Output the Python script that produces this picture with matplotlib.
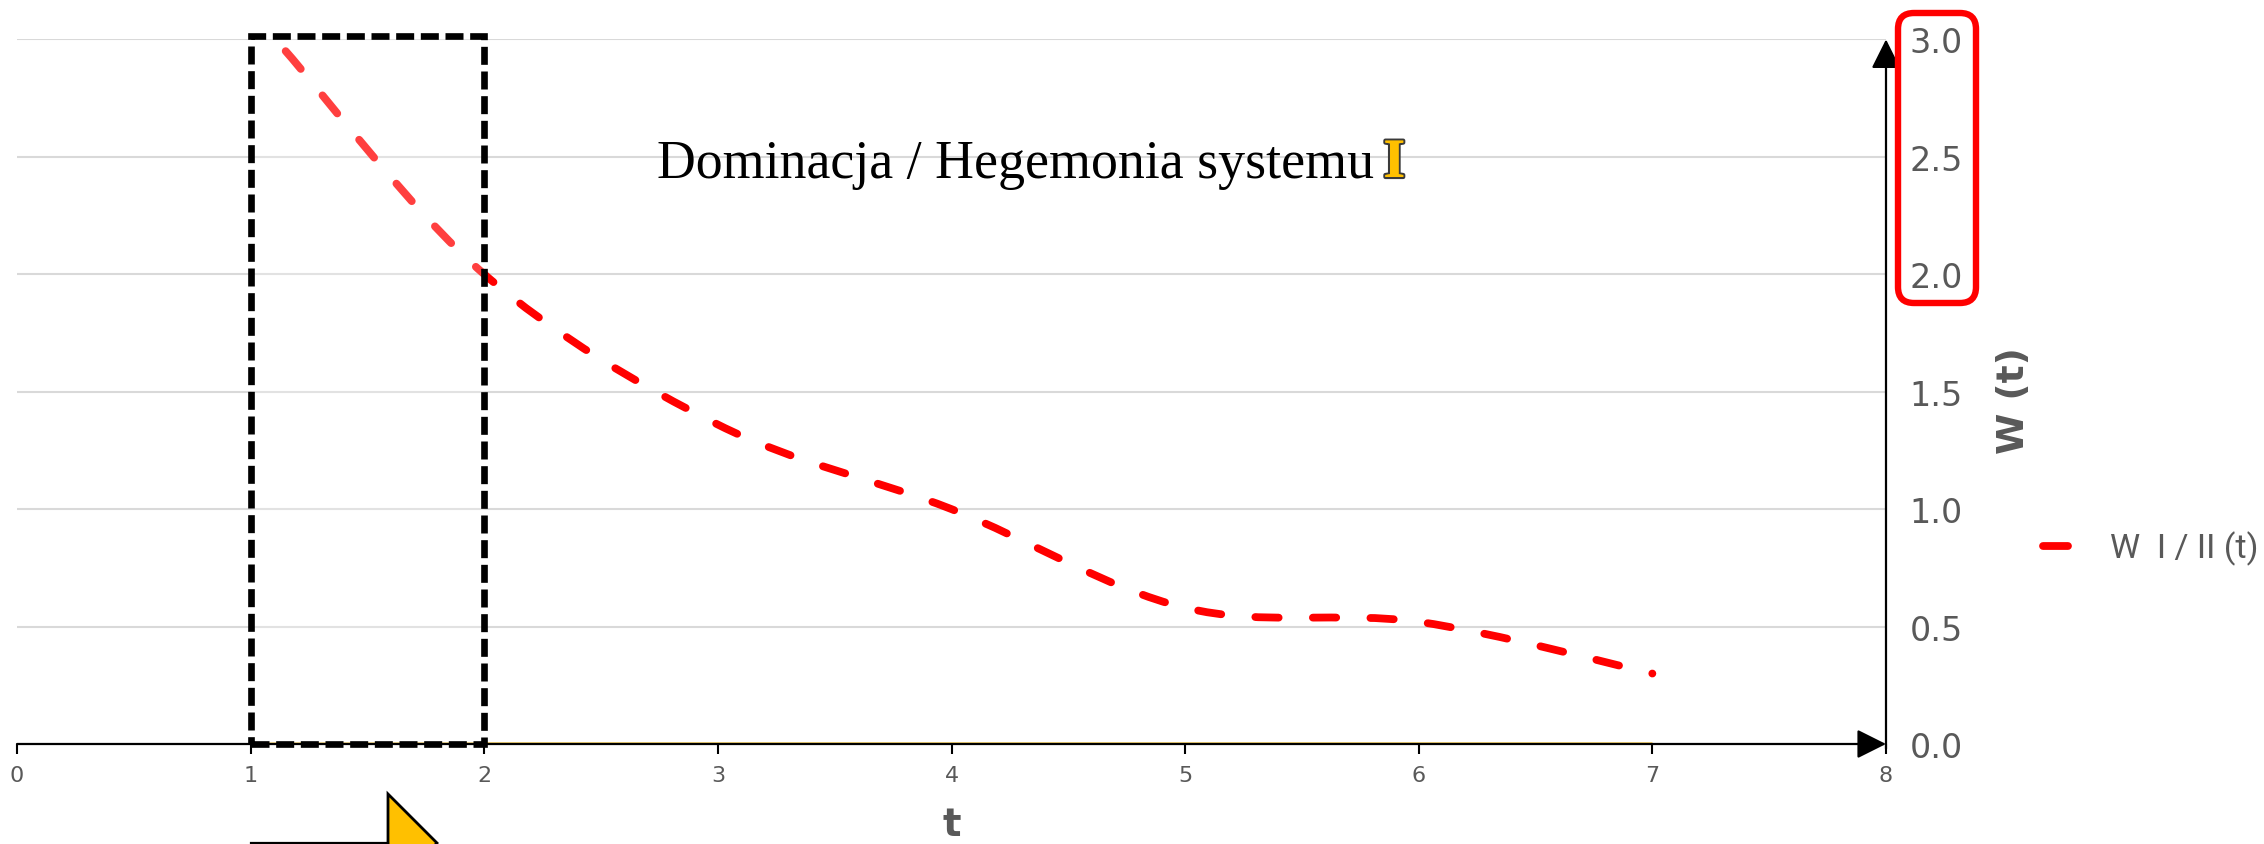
import numpy as np
import matplotlib
matplotlib.use('Agg')
import matplotlib.pyplot as plt
from matplotlib.path import Path
from matplotlib.patches import PathPatch, Rectangle, FancyBboxPatch, Polygon
from matplotlib.lines import Line2D
from matplotlib.transforms import IdentityTransform
import matplotlib.patheffects as pe

# data
t_ratio = [1.15, 2, 3, 4, 5, 6, 7]
w_ratio = [2.95, 2.0, 1.36, 1.0, 0.58, 0.52, 0.30]
t_second = [1, 2, 3, 4, 5, 6, 7]
w_second = [0, 0, 0, 0, 0, 0, 0]
x_ticks = [0, 1, 2, 3, 4, 5, 6, 7, 8]
y_ticks = [0.0, 0.5, 1.0, 1.5, 2.0, 2.5, 3.0]
box_t = [1, 2]
title_text = "Dominacja / Hegemonia systemu "
title_mark = "I"
legend_label = "W  I / II (t)"

W, H = 2264, 845
GREY = '#595959'
fig = plt.figure(figsize=(W / 100, H / 100), dpi=100)
ax = fig.add_axes([17 / W, 1 - 745 / H, (1886 - 17) / W, (745 - 40.4) / H])
ax.set_xlim(0, 8)
ax.set_ylim(0, 3)
for s in ax.spines.values():
    s.set_visible(False)


def px(x, y):
    # pixel coords measured from the top-left corner
    return (x, H - y)


# grid + ticks
ax.set_yticks(y_ticks)
ax.set_yticklabels(['%.1f' % v for v in y_ticks])
ax.yaxis.tick_right()
ax.yaxis.grid(True, color='#D9D9D9', lw=1.5, zorder=0)
ax.tick_params(axis='y', length=0, pad=17, labelsize=24, labelcolor=GREY)
ax.set_xticks(x_ticks)
ax.tick_params(axis='x', length=7, width=1.5, color='black', pad=8,
               labelsize=16, labelcolor=GREY)

# axis arrows
arrow = dict(arrowstyle='-|>,head_length=0.9,head_width=0.45', mutation_scale=20,
             color='black', lw=1.6, shrinkA=0, shrinkB=0)
ax.annotate('', xy=(8, 0), xytext=(0, 0), arrowprops=arrow, annotation_clip=False, zorder=5)
ax.annotate('', xy=(8, 3), xytext=(8, -0.02), arrowprops=arrow, annotation_clip=False, zorder=5)

# second series (flat at zero)
ax.plot(t_second, w_second, color='#F2CF6B', lw=3.5, zorder=2, solid_capstyle='butt')

# smoothed dashed ratio line
pts = np.column_stack([t_ratio, w_ratio])
verts = [tuple(pts[0])]
codes = [Path.MOVETO]
n = len(pts)
for i in range(n - 1):
    p0 = pts[max(i - 1, 0)]
    p1 = pts[i]
    p2 = pts[i + 1]
    p3 = pts[min(i + 2, n - 1)]
    c1 = p1 + (p2 - p0) / 6
    c2 = p2 - (p3 - p1) / 6
    verts += [tuple(c1), tuple(c2), tuple(p2)]
    codes += [Path.CURVE4] * 3
curve = PathPatch(Path(verts, codes), fill=False, edgecolor='#FF0000', lw=5.6,
                  linestyle=(0, (3.0, 4.4)), capstyle='round', zorder=3)
ax.add_patch(curve)

# dashed box
box = Rectangle((box_t[0], 0), box_t[1] - box_t[0], 3.015, facecolor=(1, 1, 1, 0.25),
                edgecolor='black', lw=4.8, linestyle=(0, (2.7, 1.0)), zorder=4,
                clip_on=False)
ax.add_patch(box)

# legend
handle = Line2D([], [], color='#FF0000', lw=5.6, solid_capstyle='round')
ax.legend([handle], [legend_label], loc='center left',
          bbox_to_anchor=(2043 / W, 1 - 549 / H), bbox_transform=fig.transFigure,
          frameon=False, handlelength=0.72, handletextpad=1.25, borderpad=0,
          borderaxespad=0, prop={'family': 'Roboto', 'size': 24.5}, labelcolor=GREY)

# axis titles
fig.text(2014 / W, 1 - 401 / H, 'W (t)', rotation=90, ha='center', va='center',
         fontsize=27, fontweight='bold', color=GREY)
fig.text(952 / W, 1 / H, 't', ha='center', va='bottom',
         fontsize=28, fontweight='bold', color=GREY)

# title with white background over the grid
ax.add_patch(Rectangle(px(642, 200), 1451 - 642, 80, transform=IdentityTransform(),
                       facecolor='white', edgecolor='none', zorder=1.5))
tt = fig.text(657 / W, 1 - 178 / H, title_text, ha='left', va='baseline',
              fontsize=38.8, family='Liberation Serif', color='black')
fig.canvas.draw()
bb = tt.get_window_extent()
fig.text((bb.x1 - 4) / W, 1 - 178 / H, title_mark, ha='left', va='baseline',
         fontsize=40, family='Liberation Serif', fontweight='bold', color='#FFC000',
         path_effects=[pe.withStroke(linewidth=3, foreground='#3a3a3a'), pe.Normal()])

# red rounded frame around upper tick labels
fig.add_artist(FancyBboxPatch(px(1898, 304), 1976 - 1898, 304 - 14,
                              boxstyle='round,pad=0,rounding_size=16',
                              transform=IdentityTransform(), fill=False,
                              edgecolor='#FF0000', lw=4.6))

# arrow shape at the bottom
fig.add_artist(Line2D([251, 388], [H - 843.5, H - 843.5], color='black', lw=1.6,
                      transform=IdentityTransform()))
fig.add_artist(Polygon([px(388, 795), px(437, 844), px(388, 893)], closed=True,
                       facecolor='#FFC000', edgecolor='black', lw=2,
                       transform=IdentityTransform()))

fig.savefig('out.png', dpi=100)
